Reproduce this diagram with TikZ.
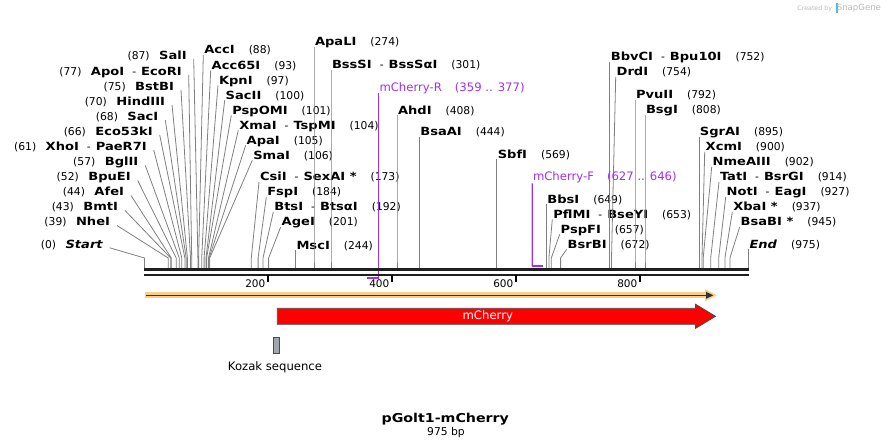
\documentclass[tikz,border=0pt]{standalone}
\usepackage{fontspec}
\setmainfont{DejaVu Sans}
\newfontfamily\enzf[FakeStretch=1.16]{DejaVu Sans}
\usetikzlibrary{calc}
\definecolor{cutgray}{RGB}{128,128,128}
\definecolor{primer}{RGB}{160,48,240}
\definecolor{orangeband}{RGB}{250,207,135}
\definecolor{darkline}{RGB}{50,50,50}
\definecolor{kozakgray}{RGB}{160,166,172}
\definecolor{wmgray}{RGB}{185,185,185}
\definecolor{wmblue}{RGB}{90,180,230}
\newcommand\ez[1]{{\enzf\bfseries\fontsize{11.3}{13}\selectfont #1}}
\newcommand\ezit[1]{{\enzf\bfseries\itshape\fontsize{11.3}{13}\selectfont #1}}
\newcommand\nm[1]{{\fontsize{10.8}{13}\selectfont #1}}
\newcommand\enzsep{\hspace{8bp}{\fontsize{10.8}{13}\selectfont -}\hspace{5bp}}
\newcommand\lgap{\hspace{9.5bp}}
\newcommand\rgap{\hspace{14bp}}
\tikzset{
  lab/.style={inner sep=0pt, outer sep=0pt},
  cut/.style={draw=cutgray, line width=0.8bp},
  primerline/.style={draw=primer, line width=1.3bp},
  primerbar/.style={draw=primer, line width=2bp},
  tickmark/.style={draw=black, line width=2bp},
  ticklab/.style={inner sep=0pt, anchor=base east, font=\fontsize{10.5}{12}\selectfont},
}
\newcommand\leftsite[5]{%
  \node[lab, anchor=base east] (l#1) at (#3,#4) {#5};
  \coordinate (s#1) at (#2,268.3);
  \draw[cut] ($(l#1.base east)+(7,-0.5)$) -- (#2,258) -- (s#1);}
\newcommand\rightsite[5]{%
  \node[lab, anchor=base west] (l#1) at (#3,#4) {#5};
  \coordinate (s#1) at (#2,268.3);
  \draw[cut] ($(l#1.base west)+(-1,1)$) -- (#2,258) -- (s#1);}
\begin{document}
\begin{tikzpicture}[x=1bp, y=-1bp]
\fill[white] (0,0) rectangle (894,448);
\useasboundingbox (0,0) rectangle (894,448);

% watermark
\node[lab, anchor=base east, text=wmgray, font=\fontsize{6.3}{7}\selectfont] (wm1) at (832,10.5) {Created by};
\fill[wmblue] (835.5,3) rectangle (838.3,13);
\node[lab, anchor=base east, text=wmgray, font=\fontsize{8.6}{10}\selectfont] (wm2) at (881,10.8) {SnapGene};

% left fan
\leftsite{SalI}{197.9}{186.7}{59.5}{\nm{(87)}\lgap\ez{SalI}}
\leftsite{ApoI}{191.7}{181.7}{75.5}{\nm{(77)}\lgap\ez{ApoI}\enzsep\ez{EcoRI}}
\leftsite{BstBI}{190.5}{174}{90.5}{\nm{(75)}\lgap\ez{BstBI}}
\leftsite{HindIII}{187.4}{165}{105.5}{\nm{(70)}\lgap\ez{HindIII}}
\leftsite{SacI}{186.2}{158.3}{120.5}{\nm{(68)}\lgap\ez{SacI}}
\leftsite{Eco53kI}{184.9}{152.7}{135.5}{\nm{(66)}\lgap\ez{Eco53kI}}
\leftsite{XhoI}{181.8}{146.7}{150.5}{\nm{(61)}\lgap\ez{XhoI}\enzsep\ez{PaeR7I}}
\leftsite{BglII}{179.3}{138.3}{166}{\nm{(57)}\lgap\ez{BglII}}
\leftsite{BpuEI}{176.2}{130.7}{181}{\nm{(52)}\lgap\ez{BpuEI}}
\leftsite{AfeI}{171.3}{124}{196}{\nm{(44)}\lgap\ez{AfeI}}
\leftsite{BmtI}{170.7}{118}{211}{\nm{(43)}\lgap\ez{BmtI}}
\leftsite{NheI}{168.2}{110}{226}{\nm{(39)}\lgap\ez{NheI}}
\leftsite{Start}{144.5}{102.7}{248.3}{\nm{(0)}\lgap\ezit{Start}}

% right-side labels
\rightsite{AccI}{198.6}{204.3}{54}{\ez{AccI}\rgap\nm{(88)}}
\rightsite{Acc65I}{201.7}{211.7}{69.3}{\ez{Acc65I}\rgap\nm{(93)}}
\rightsite{KpnI}{204.1}{219}{84.3}{\ez{KpnI}\rgap\nm{(97)}}
\rightsite{SacII}{206}{225.7}{99.3}{\ez{SacII}\rgap\nm{(100)}}
\rightsite{PspOMI}{206.6}{232.3}{114.3}{\ez{PspOMI}\rgap\nm{(101)}}
\rightsite{XmaI}{208.5}{239.3}{129.3}{\ez{XmaI}\enzsep\ez{TspMI}\rgap\nm{(104)}}
\rightsite{ApaI}{209.1}{246.7}{144.3}{\ez{ApaI}\rgap\nm{(105)}}
\rightsite{SmaI}{209.7}{253.3}{159.3}{\ez{SmaI}\rgap\nm{(106)}}
\rightsite{CsiI}{251.3}{260}{181}{\ez{CsiI}\enzsep\ez{SexAI *}\rgap\nm{(173)}}
\rightsite{FspI}{258.1}{267.3}{196}{\ez{FspI}\rgap\nm{(184)}}
\rightsite{BtsI}{263}{274.3}{211}{\ez{BtsI}\enzsep\ez{BtsαI}\rgap\nm{(192)}}
\rightsite{AgeI}{268.6}{281.7}{226}{\ez{AgeI}\rgap\nm{(201)}}
\rightsite{MscI}{295.5}{296.5}{249.3}{\ez{MscI}\rgap\nm{(244)}}
\rightsite{ApaLI}{314}{315}{46}{\ez{ApaLI}\rgap\nm{(274)}}
\rightsite{BssSI}{331}{332}{69}{\ez{BssSI}\enzsep\ez{BssSαI}\rgap\nm{(301)}}
\rightsite{AhdI}{397}{398}{114.3}{\ez{AhdI}\rgap\nm{(408)}}
\rightsite{BsaAI}{419.3}{420.3}{136}{\ez{BsaAI}\rgap\nm{(444)}}
\rightsite{SbfI}{496.8}{497.8}{158.3}{\ez{SbfI}\rgap\nm{(569)}}
\rightsite{BbsI}{546.4}{547.4}{203.3}{\ez{BbsI}\rgap\nm{(649)}}
\rightsite{PflMI}{548.9}{553.3}{218.3}{\ez{PflMI}\enzsep\ez{BseYI}\rgap\nm{(653)}}
\rightsite{PspFI}{551.3}{560.7}{233.3}{\ez{PspFI}\rgap\nm{(657)}}
\rightsite{BsrBI}{560.6}{567.7}{248.3}{\ez{BsrBI}\rgap\nm{(672)}}
\rightsite{BbvCI}{609.8}{610.8}{61}{\ez{BbvCI}\enzsep\ez{Bpu10I}\rgap\nm{(752)}}
\rightsite{DrdI}{611.5}{616.7}{76}{\ez{DrdI}\rgap\nm{(754)}}
\rightsite{PvuII}{635}{636}{99}{\ez{PvuII}\rgap\nm{(792)}}
\rightsite{BsgI}{645}{646}{114}{\ez{BsgI}\rgap\nm{(808)}}
\rightsite{SgrAI}{698.9}{699.9}{136}{\ez{SgrAI}\rgap\nm{(895)}}
\rightsite{XcmI}{702}{705.7}{151}{\ez{XcmI}\rgap\nm{(900)}}
\rightsite{NmeAIII}{703.2}{712.7}{166}{\ez{NmeAIII}\rgap\nm{(902)}}
\rightsite{TatI}{710.7}{720}{181}{\ez{TatI}\enzsep\ez{BsrGI}\rgap\nm{(914)}}
\rightsite{NotI}{718.7}{726.7}{196}{\ez{NotI}\enzsep\ez{EagI}\rgap\nm{(927)}}
\rightsite{XbaI}{724.9}{733.3}{211}{\ez{XbaI *}\rgap\nm{(937)}}
\rightsite{BsaBI}{729.9}{740.7}{226}{\ez{BsaBI *}\rgap\nm{(945)}}
\rightsite{End}{748.5}{749.5}{248.3}{\ezit{End}\rgap\nm{(975)}}

% primers
\node[lab, anchor=base west, text=primer, font=\fontsize{11.7}{13}\selectfont] (pR) at (379.5,91.7) {mCherry-R\hspace{13bp}(359 .. 377)};
\coordinate (pRb) at (378.7,278.5);
\draw[primerline] ($(pR.base west)+(-0.8,1.6)$) -- (pRb);
\node[lab, anchor=base west, text=primer, font=\fontsize{11.7}{13}\selectfont] (pF) at (533,180.7) {mCherry-F\hspace{13bp}(627 .. 646)};
\coordinate (pFb) at (532.3,266.3);
\draw[primerline] ($(pF.base west)+(-0.7,2.6)$) -- (pFb);
\draw[primerbar] (531.6,266.3) -- (543.4,266.3);

% backbone
\draw[line width=3bp, black!88] (144,269.7) -- (748.8,269.7);
\draw[line width=2bp, black!88] (144,274.8) -- (748.8,274.8);

% ticks
\foreach \p/\xx in {200/268, 400/392, 600/516, 800/640}{
  \draw[tickmark] (\xx,275.5) -- (\xx,282.5);
  \node[ticklab] (t\p) at (\xx-2.5,287.5) {\p};
}
\draw[primerbar] (366.8,278.5) -- (379.4,278.5);

% orange full-length arrow
\draw[orangeband, line width=5.8bp] (145,295.3) -- (708,295.3);
\fill[orangeband] (705,289.2) -- (716.8,295.3) -- (705,301.4) -- cycle;
\draw[darkline, line width=1.4bp] (146,295.3) -- (708,295.3);
\fill[darkline] (706,291.8) -- (713.3,295.3) -- (706,298.8) -- cycle;

% mCherry feature
\draw[draw=black!70, fill=red, line width=0.8bp]
  (277.3,308.3) -- (695.6,308.3) -- (695.6,304.3) -- (715.5,316.3)
  -- (695.6,328.3) -- (695.6,324.3) -- (277.3,324.3) -- cycle;
\node[lab, text=white, font=\fontsize{11.7}{13}\selectfont] (mch) at (487.8,316.3) {mCherry};

% Kozak
\draw[draw=black!70, fill=kozakgray, line width=0.7bp] (273.5,337.3) rectangle (279.6,353.3);
\node[lab, anchor=base, font=\fontsize{11.7}{13}\selectfont] (koz) at (275,371) {Kozak sequence};

% title
\node[lab, anchor=base, font=\enzf\bfseries\fontsize{12.3}{14}\selectfont] (title) at (445.3,422.3) {pGolt1-mCherry};
\node[lab, anchor=base, font=\fontsize{10.8}{12}\selectfont] (size) at (446,435.7) {975 bp};
\end{tikzpicture}
\end{document}
